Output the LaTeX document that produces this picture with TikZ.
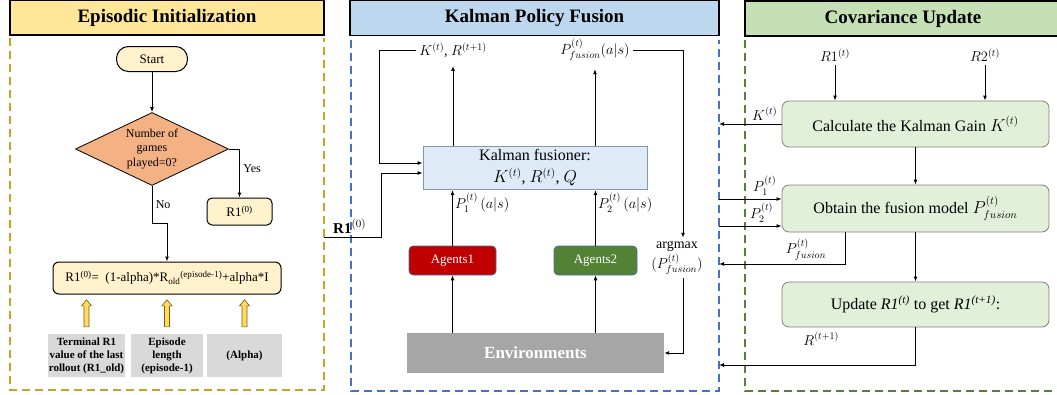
\documentclass[tikz,border=0pt]{standalone}
\usepackage{fontspec}
\setmainfont{Liberation Serif}
\usepackage{amsmath}
\usetikzlibrary{arrows.meta}
\usetikzlibrary{shapes.geometric}
\tikzset{>={Latex[width=4pt,length=5pt]}}
\definecolor{inityellow}{HTML}{FFE699}
\definecolor{initgold}{HTML}{D0A020}
\definecolor{startfill}{HTML}{FFF2CC}
\definecolor{gamesorange}{HTML}{F4B183}
\definecolor{sourcegray}{HTML}{D9D9D9}
\definecolor{arrowyellow}{HTML}{FFD966}
\definecolor{arrowedge}{HTML}{7F6000}
\definecolor{fusionblue}{HTML}{BDD7EE}
\definecolor{fusionline}{HTML}{4472C4}
\definecolor{fusionfill}{HTML}{DEEBF7}
\definecolor{fusionedge}{HTML}{8497B0}
\definecolor{agentred}{HTML}{C00000}
\definecolor{agentgreen}{HTML}{548235}
\definecolor{agentedge}{HTML}{41719C}
\definecolor{envgray}{HTML}{A6A6A6}
\definecolor{covgreen}{HTML}{C5E0B4}
\definecolor{covline}{HTML}{548235}
\definecolor{stepfill}{HTML}{E2F0D9}
\definecolor{stepedge}{HTML}{7F7F7F}
\tikzset{
	titlebox/.style={draw, line width=1.5pt, minimum height=35pt, inner sep=0pt, font=\fontsize{19}{21}\selectfont\bfseries},
	golddash/.style={draw=initgold, line width=1.6pt, dash pattern=on 8pt off 5pt},
	bluedash/.style={draw=fusionline, line width=1.4pt, dash pattern=on 8pt off 5pt},
	greendash/.style={draw=covline, line width=1.4pt, dash pattern=on 8pt off 5pt},
	flow/.style={->, line width=1pt},
	startbox/.style={draw, line width=1pt, fill=startfill, rounded corners=12pt, minimum width=71pt, minimum height=25pt, font=\fontsize{13}{15}\selectfont},
	decision/.style={diamond, draw, line width=0.8pt, fill=gamesorange, aspect=2.1, inner sep=0pt, minimum width=153pt, minimum height=73pt, align=center, font=\fontsize{12}{14.5}\selectfont},
	initbox/.style={draw, line width=1pt, fill=startfill, rounded corners=5pt, font=\fontsize{13}{15}\selectfont},
	sourcebox/.style={fill=sourcegray, minimum height=43pt, inner sep=1pt, align=center, font=\fontsize{11}{13}\selectfont\bfseries},
	hollowup/.style={draw=arrowedge, line width=0.6pt, fill=arrowyellow},
	fusionbox/.style={draw=fusionedge, line width=0.8pt, fill=fusionfill, minimum width=224pt, minimum height=42pt, align=center, font=\fontsize{16}{22}\selectfont},
	agentbox/.style={draw=agentedge, line width=0.6pt, rounded corners=4pt, minimum height=29pt, text=white, font=\fontsize{13}{15}\selectfont},
	envbox/.style={fill=envgray, minimum width=257pt, minimum height=40pt, text=white, font=\fontsize{17}{19}\selectfont\bfseries},
	stepbox/.style={draw=stepedge, line width=0.8pt, fill=stepfill, rounded corners=7pt, minimum width=267pt, font=\fontsize{16}{18}\selectfont},
	mathlabel/.style={font=\fontsize{14}{16}\selectfont},
	smalltext/.style={font=\fontsize{12}{14}\selectfont}
}

\begin{document}
\begin{tikzpicture}[x=1pt,y=-1pt]
	\useasboundingbox (0,0) rectangle (1057,394);
	\begin{scope}
		%episodic initialization frame
		\node[titlebox, fill=inityellow, minimum width=314pt] (inittitle) at (167,17.5) {Episodic Initialization};
		\draw[golddash] (10,38) -- (10,390) -- (324,390) -- (324,38);
		%flowchart
		\node[startbox] (start) at (152,59) {Start};
		\node[decision] (games) at (152,149) {Number of\\games\\played=0?};
		\node[initbox, minimum width=65pt, minimum height=27pt] (initval) at (239.5,211.5) {R1\textsuperscript{(0)}};
		\node[initbox, rounded corners=6pt, minimum width=228pt, minimum height=32pt] (formula) at (167,278) {R1\textsuperscript{(0)}=\ \ (1-alpha)*R\textsubscript{old}\textsuperscript{(episode-1)}+alpha*I};
		\draw[flow] (start) -- (games);
		\draw[flow] (games.east) -| node[pos=0.7, right, smalltext] {Yes} (initval.north);
		\draw[flow] (games.south) -- node[right, smalltext] {No} ++(0,38) -| (formula.north);
		%sources
		\node[sourcebox, minimum width=75pt] (termbox) at (86.5,355.5) {Terminal R1\\value of the last\\rollout (R1\_old)};
		\node[sourcebox, minimum width=72pt] (lenbox) at (167,355.5) {Episode\\length\\(episode-1)};
		\node[sourcebox, minimum width=75pt] (alphabox) at (244.5,355.5) {(Alpha)};
		\foreach \src in {termbox,lenbox,alphabox}
			\draw[hollowup] ([xshift=-2.5pt,yshift=7pt]\src.north) -- ++(0,-21) -- ++(-2.5,0) -- ++(5,-6) -- ++(5,6) -- ++(-2.5,0) -- ++(0,21) -- cycle;
		\coordinate (initout) at (324,237);
	\end{scope}
	\begin{scope}
		%kalman policy fusion frame
		\node[titlebox, fill=fusionblue, minimum width=369pt] (fusiontitle) at (534.5,18) {Kalman Policy Fusion};
		\draw[bluedash] (351,40) -- (351,391) -- (719,391) -- (719,40);
		\coordinate (fusionright) at (719,0);
		%boxes
		\node[fusionbox] (fusioner) at (535,168) {Kalman fusioner:\\$K^{(t)}$, $R^{(t)}$, $Q$};
		\node[agentbox, fill=agentred, minimum width=87pt] (agent1) at (452.5,260.5) {Agents1};
		\node[agentbox, fill=agentgreen, minimum width=83pt] (agent2) at (595.5,260.5) {Agents2};
		\node[envbox] (env) at (535.5,353) {Environments};
		\node[mathlabel] (gainout) at (453,50) {$K^{(t)}$, $R^{(t+1)}$};
		\node[mathlabel] (fusedout) at (595,50) {$P^{(t)}_{fusion}(a|s)$};
		\node[align=center, font=\fontsize{14}{20}\selectfont] (argmax) at (677,258) {argmax\\$(P^{(t)}_{fusion})$};
		%arrows
		\draw[flow] (fusioner.north -| gainout.south) -- ([yshift=-5pt]gainout.south);
		\draw[flow] (fusioner.north -| fusedout.south) -- ([yshift=-5pt]fusedout.south);
		\draw[flow] (gainout.west) -- ++(-36,0) |- ([yshift=5pt]fusioner.west);
		\draw[flow] (initout) -- node[above, pos=0.45, font=\fontsize{15}{17}\selectfont] {\textbf{R1}$^{(0)}$} ++(57,0) |- ([yshift=-5pt]fusioner.west);
		\draw[flow] (env.north -| agent1.south) -- (agent1.south);
		\draw[flow] (env.north -| agent2.south) -- (agent2.south);
		\draw[flow] (agent1.north) -- node[pos=0.77, right, inner sep=2pt, mathlabel] {$P^{(t)}_1\,(a|s)$} (agent1.north |- fusioner.south);
		\draw[flow] (agent2.north) -- node[pos=0.77, right, inner sep=2pt, mathlabel] {$P^{(t)}_2\,(a|s)$} (agent2.north |- fusioner.south);
		\draw[flow] (fusedout.east) -| ([xshift=6pt]argmax.north);
		\draw[flow] ([xshift=6pt]argmax.south) |- (env.east);
	\end{scope}
	\begin{scope}
		%covariance update frame
		\node[titlebox, fill=covgreen, minimum width=316pt] (covtitle) at (903,18.5) {Covariance Update};
		\draw[greendash] (745,40) -- (745,391) -- (1062,391);
		%steps
		\node[stepbox, minimum height=46pt] (gain) at (915.5,124) {Calculate the Kalman Gain $K^{(t)}$};
		\node[stepbox, minimum height=47pt] (fuse) at (915.5,208.5) {Obtain the fusion model $P^{(t)}_{fusion}$};
		\node[stepbox, minimum height=45pt] (update) at (915.5,304.5) {Update \textit{R1}\textsuperscript{\textit{(t)}} to get \textit{R1}\textsuperscript{\textit{(t+1)}}:};
		\node[mathlabel] (rone) at (835,55) {$R1^{(t)}$};
		\node[mathlabel] (rtwo) at (985,55) {$R2^{(t)}$};
		%arrows
		\draw[flow] (rone) -- (rone |- gain.north);
		\draw[flow] (rtwo) -- (rtwo |- gain.north);
		\draw[flow] (gain) -- (fuse);
		\draw[flow] (fuse) -- (update);
		\draw[flow] (gain.west) -- node[above, pos=0.27, mathlabel] {$K^{(t)}$} (gain.west -| fusionright);
		\draw[flow] ([yshift=9.5pt]fuse.west -| fusionright) -- node[above, pos=0.73, mathlabel] {$P^{(t)}_1$} ([yshift=9.5pt]fuse.west);
		\draw[flow] ([yshift=-17.5pt]fuse.west -| fusionright) -- node[above, pos=0.68, mathlabel] {$P^{(t)}_2$} ([yshift=-17.5pt]fuse.west);
		\coordinate (fusedback) at (719,264);
		\coordinate (rback) at (719,365);
		\draw[flow] ([xshift=-70.5pt]fuse.south) |- node[above, pos=0.655, mathlabel] {$P^{(t)}_{fusion}$} (fusedback);
		\draw[flow] (update.south) |- node[above=16pt, pos=0.74, mathlabel] {$R^{(t+1)}$} (rback);
	\end{scope}
\end{tikzpicture}
\end{document}
